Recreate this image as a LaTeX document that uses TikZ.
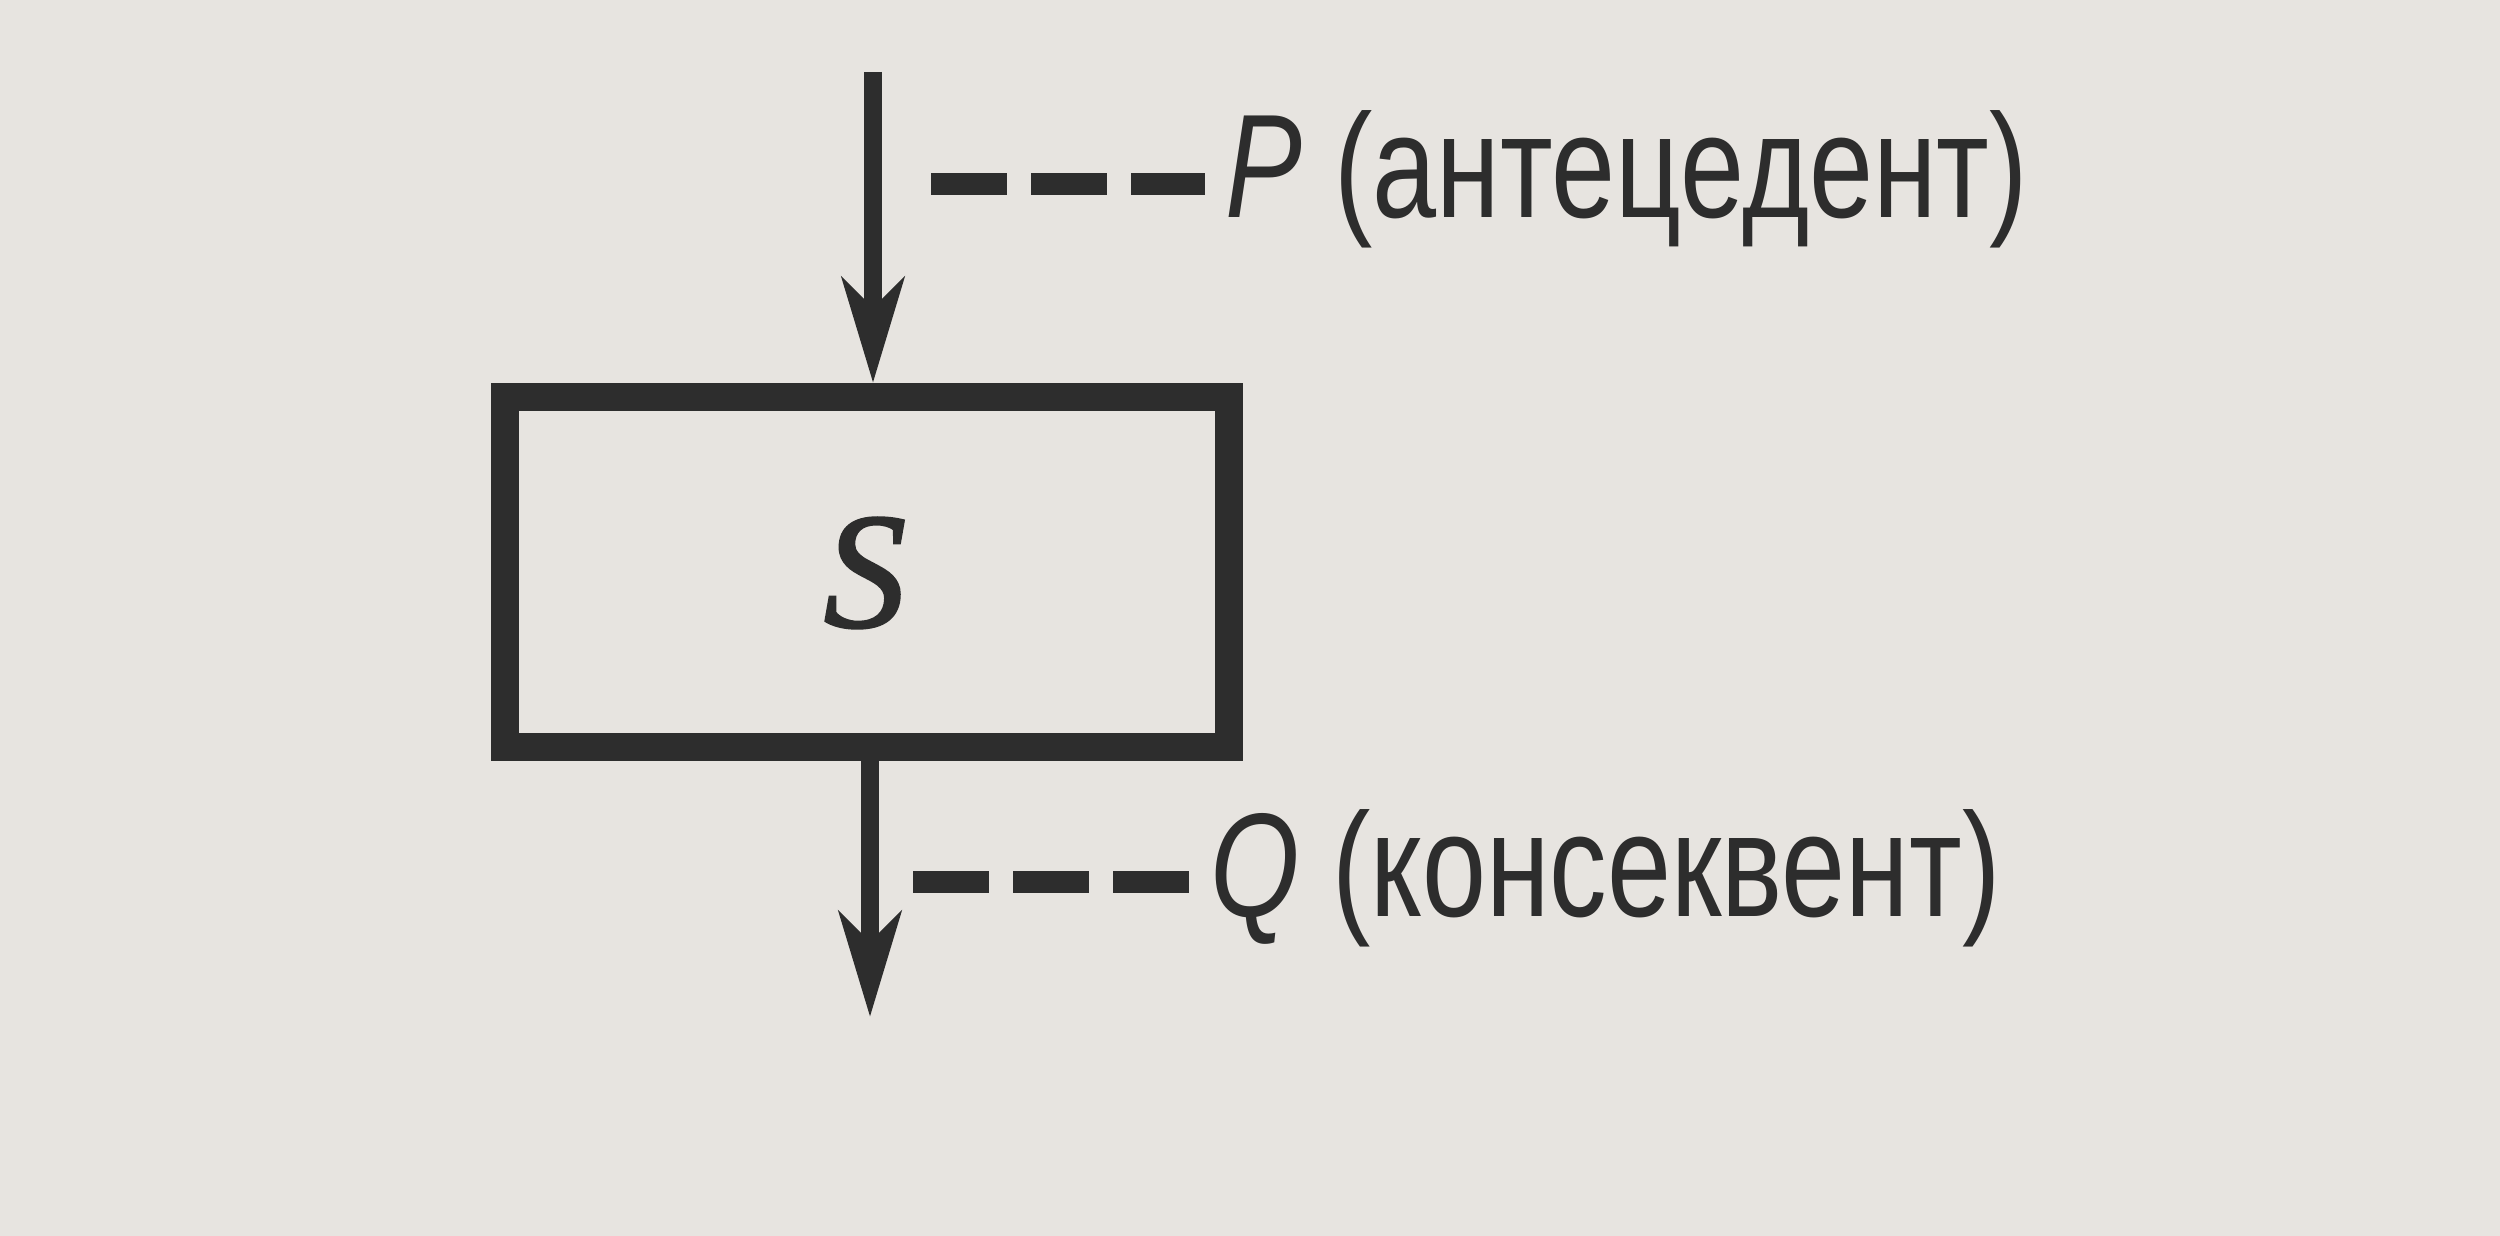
\documentclass[tikz,border=0pt]{standalone}
\usepackage{fontspec}
\setmainfont{Liberation Sans}
\newfontfamily\labelfont[FakeStretch=0.78]{Liberation Sans}
\newfontfamily\stmtfont[FakeBold=1.5]{Liberation Serif}
\usetikzlibrary{arrows.meta}
\definecolor{paper}{RGB}{231,228,224}
\definecolor{ink}{RGB}{45,45,45}
\tikzset{
  flow/.style={ink,line width=5pt,-{Stealth[length=10.5mm,width=6.2mm,inset=3mm]}},
  lead/.style={ink,line width=6.5pt,dash pattern=on 7.6mm off 2.4mm,shorten >=2mm},
  tag/.style={anchor=base west,inner sep=0pt,text=ink,font=\labelfont\fontsize{42}{46}\selectfont},
  block/.style={draw=ink,line width=8pt,minimum width=7.24cm,minimum height=3.5cm}
}
\begin{document}
\begin{tikzpicture}
  \fill[paper] (0,0) rectangle (25,12.36);
  \useasboundingbox (0,0) rectangle (25,12.36);
  % the statement
  \node[block] (box) at (8.67,6.64) {};
  \node[text=ink,font=\stmtfont\itshape\fontsize{47}{50}\selectfont] (s) at (8.65,6.63) {S};
  % in and out
  \coordinate (in) at (8.73,11.64);
  \coordinate (out) at (8.70,2.19);
  \draw[flow] (in) -- (in |- box.north);
  \draw[flow] (out |- box.south) -- (out);
  % labels
  \node[tag] (p) at (12.25,10.18) {\textit{P} (антецедент)};
  \node[tag] (q) at (12.10,3.19) {\textit{Q} (консеквент)};
  \coordinate (pa) at (9.31,10.52);
  \coordinate (qa) at (9.13,3.54);
  \draw[lead] (pa) -- (pa -| p.west);
  \draw[lead] (qa) -- (qa -| q.west);
\end{tikzpicture}
\end{document}
